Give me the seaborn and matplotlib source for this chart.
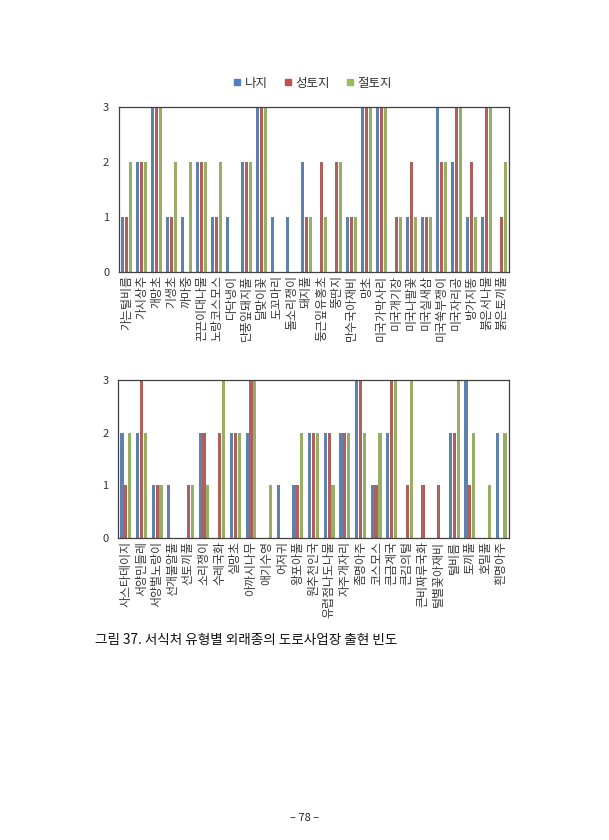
import matplotlib
import matplotlib.pyplot as plt
import pandas as pd
import seaborn as sns
from matplotlib.lines import Line2D

matplotlib.use("Agg")

HABITATS = ["나지", "성토지", "절토지"]
COLORS = ["#4F81BD", "#C0504D", "#9BBB59"]

top_species = [
    "가는털비름", "가시상추", "개망초", "기생초", "까마중", "끈끈이대나물",
    "노랑코스모스", "다닥냉이", "단풍잎돼지풀", "달맞이꽃", "도꼬마리", "돌소리쟁이",
    "돼지풀", "둥근잎유홍초", "뚱딴지", "만수국아재비", "망초", "미국가막사리",
    "미국개기장", "미국나팔꽃", "미국실새삼", "미국쑥부쟁이", "미국자리공", "방가지똥",
    "붉은서나물", "붉은토끼풀",
]
top_bare = [1, 2, 3, 1, 1, 2, 1, 1, 2, 3, 1, 1, 2, 0, 0, 1, 3, 3, 0, 1, 1, 3, 2, 1, 1, 0]
top_fill = [1, 2, 3, 1, 0, 2, 1, 0, 2, 3, 0, 0, 1, 2, 2, 1, 3, 3, 1, 2, 1, 2, 3, 2, 3, 1]
top_cut = [2, 2, 3, 2, 2, 2, 2, 0, 2, 3, 0, 0, 1, 1, 2, 1, 3, 3, 1, 1, 1, 2, 3, 1, 3, 2]

bottom_species = [
    "사스타데이지", "서양민들레", "서양벌노랑이", "선개불알풀", "선토끼풀", "소리쟁이",
    "수레국화", "실망초", "아까시나무", "애기수영", "어저귀", "왕포아풀", "원추천인국",
    "유럽점나도나물", "자주개자리", "좀명아주", "코스모스", "큰금계국", "큰김의털",
    "큰비짜루국화", "털별꽃아재비", "털비름", "토끼풀", "호밀풀", "흰명아주",
]
bottom_bare = [2, 2, 1, 1, 0, 2, 0, 2, 2, 0, 1, 1, 2, 2, 2, 3, 1, 2, 0, 0, 0, 2, 3, 0, 2]
bottom_fill = [1, 3, 1, 0, 1, 2, 2, 2, 3, 0, 0, 1, 2, 2, 2, 3, 1, 3, 1, 1, 1, 2, 1, 0, 0]
bottom_cut = [2, 2, 1, 0, 1, 1, 3, 2, 3, 1, 0, 2, 2, 1, 2, 2, 2, 3, 3, 0, 0, 3, 2, 1, 2]


def to_long(species, bare, fill, cut):
    frames = []
    for habitat, values in zip(HABITATS, [bare, fill, cut]):
        frames.append(pd.DataFrame({"species": species, "habitat": habitat, "count": values}))
    return pd.concat(frames, ignore_index=True)


def draw(ax, species, bare, fill, cut):
    data = to_long(species, bare, fill, cut)
    sns.barplot(
        data=data, x="species", y="count", hue="habitat", order=species,
        hue_order=HABITATS, palette=COLORS, width=0.74, gap=0.18,
        linewidth=0, legend=False, ax=ax,
    )
    ax.set_ylim(0, 3)
    ax.set_yticks([0, 1, 2, 3])
    ax.set_xlabel("")
    ax.set_ylabel("")
    ax.tick_params(axis="both", length=0, labelsize=8, colors="#333333")
    ax.tick_params(axis="y", pad=7)
    ax.tick_params(axis="x", pad=2)
    for label in ax.get_xticklabels():
        label.set_rotation(90)
        label.set_fontsize(8.6)
        label.set_color("#3a3a3a")
    for spine in ax.spines.values():
        spine.set_visible(True)
        spine.set_color("#404040")
        spine.set_linewidth(0.9)


sns.set_style("white")
plt.rcParams["font.family"] = ["Noto Sans CJK KR", "DejaVu Sans"]

fig = plt.figure(figsize=(6.09, 8.40), dpi=100)
ax_top = fig.add_axes([0.1954, 0.6762, 0.6404, 0.1964])
ax_bottom = fig.add_axes([0.1938, 0.3595, 0.6420, 0.1881])

draw(ax_top, top_species, top_bare, top_fill, top_cut)
draw(ax_bottom, bottom_species, bottom_bare, bottom_fill, bottom_cut)

handles = [
    Line2D([], [], marker="s", linestyle="", markersize=5, color=c, label=h)
    for c, h in zip(COLORS, HABITATS)
]
fig.legend(
    handles=handles, loc="center", bbox_to_anchor=(0.513, 0.901), ncol=3,
    frameon=False, fontsize=9, handlelength=0.6, handletextpad=0.3,
    columnspacing=1.3, labelcolor="#333333",
)

fig.text(
    0.156, 1 - 640 / 840, "그림 37. 서식처 유형별 외래종의 도로사업장 출현 빈도",
    ha="left", va="center", fontsize=9.8, color="#111111",
)
fig.text(0.5, 1 - 818 / 840, "– 78 –", ha="center", va="center", fontsize=8, color="#222222")

fig.savefig("out.png", dpi=100, facecolor="white")
plt.close(fig)
